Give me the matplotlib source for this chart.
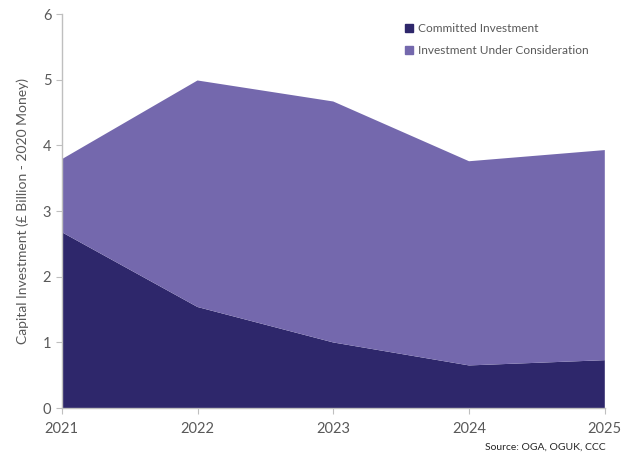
import matplotlib
matplotlib.use("Agg")
import matplotlib.pyplot as plt
from matplotlib.patches import Patch

plt.rcParams['font.family'] = ['Lato', 'DejaVu Sans']

years = [2021, 2022, 2023, 2024, 2025]
committed = [2.68, 1.54, 1.00, 0.65, 0.73]
total = [3.79, 4.99, 4.67, 3.76, 3.93]
under_consideration = [t - c for t, c in zip(total, committed)]
yticks = [0, 1, 2, 3, 4, 5, 6]

dark = '#2E276B'
light = '#7468AD'
grey = '#595959'
axis_col = '#BFBFBF'

fig = plt.figure(figsize=(6.30, 4.57), dpi=100)
ax = fig.add_axes([0.098, 0.107, 0.862, 0.862])
ax.stackplot(years, committed, under_consideration, colors=[dark, light], linewidth=0)

ax.set_xlim(2021, 2025)
ax.set_ylim(0, 6)
ax.set_xticks(years)
ax.set_yticks(yticks)
for s in ['top', 'right']:
    ax.spines[s].set_visible(False)
for s in ['left', 'bottom']:
    ax.spines[s].set_color(axis_col)
    ax.spines[s].set_linewidth(1)
ax.tick_params(axis='both', colors=axis_col, labelcolor=grey, labelsize=10.5, length=4)
ax.tick_params(axis='x', pad=6)
ax.set_ylabel('Capital Investment (£ Billion - 2020 Money)', color=grey, fontsize=10, labelpad=10)

handles = [Patch(color=dark), Patch(color=light)]
leg = ax.legend(handles, ['Committed Investment', 'Investment Under Consideration'],
                loc='upper right', bbox_to_anchor=(0.99, 1.005), frameon=False,
                fontsize=8.6, handlelength=0.7, handleheight=0.7, handletextpad=0.4,
                labelspacing=0.95)
for t in leg.get_texts():
    t.set_color(grey)

fig.text(0.962, 0.012, 'Source: OGA, OGUK, CCC', ha='right', va='bottom', fontsize=7.5, color='#262626')

fig.savefig('out.png', dpi=100)
